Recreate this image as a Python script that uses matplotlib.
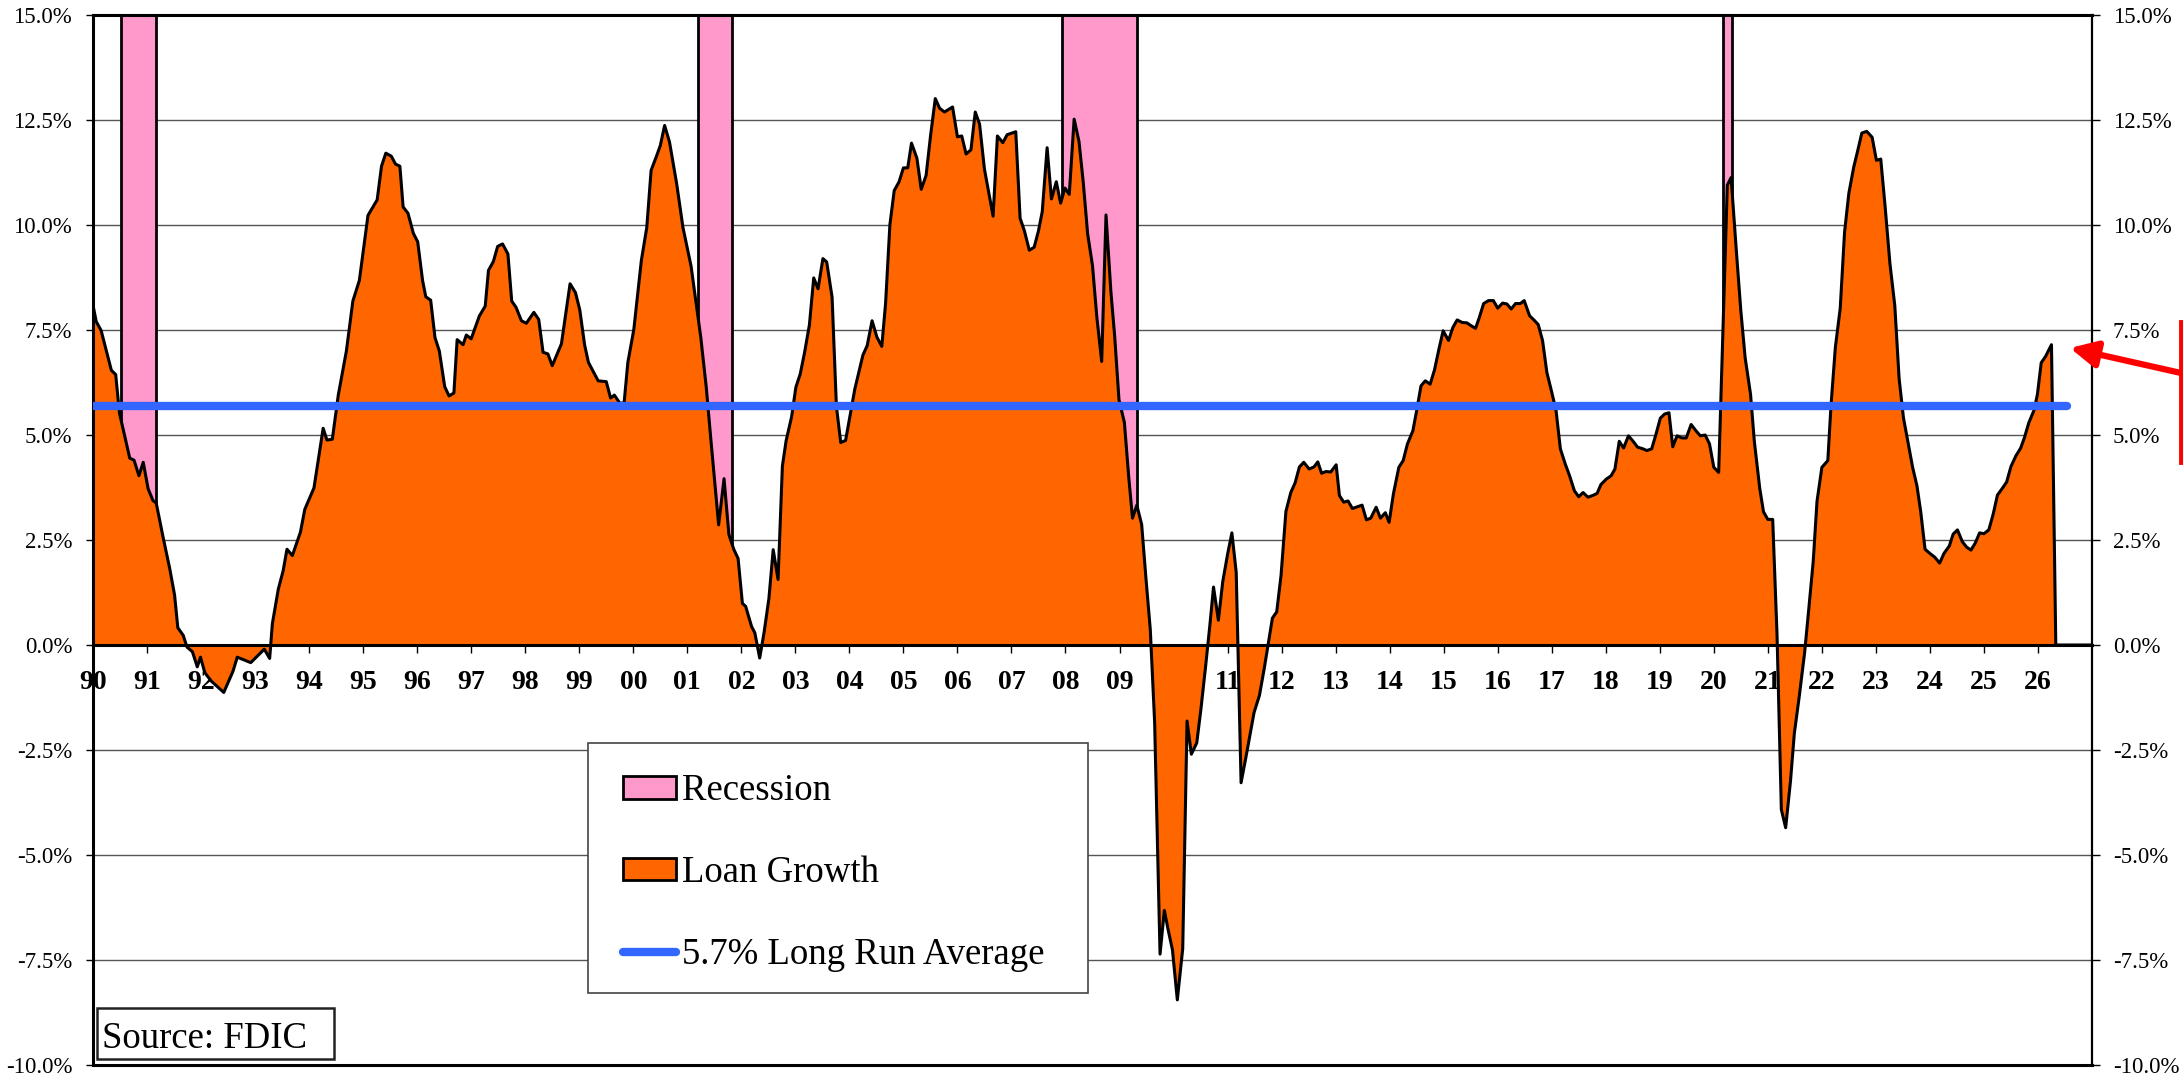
import numpy as np
import matplotlib
matplotlib.use("Agg")
import matplotlib.pyplot as plt
from matplotlib.patches import Patch, Rectangle, FancyArrowPatch
from matplotlib.lines import Line2D
from matplotlib.ticker import FuncFormatter

plt.rcParams['font.family'] = ['Liberation Serif', 'DejaVu Serif']

# loan growth (%), x in decimal years
years = [
    1990.00, 1990.06, 1990.15, 1990.34, 1990.42, 1990.49, 1990.62, 1990.68, 1990.76, 1990.85,
    1990.93, 1991.02, 1991.11, 1991.17, 1991.30, 1991.42, 1991.51, 1991.57, 1991.67, 1991.74,
    1991.84, 1991.93, 1991.99, 1992.07, 1992.19, 1992.42, 1992.59, 1992.67, 1992.92, 1993.17,
    1993.27, 1993.32, 1993.43, 1993.52, 1993.59, 1993.69, 1993.84, 1993.92, 1994.09, 1994.26,
    1994.33, 1994.43, 1994.54, 1994.69, 1994.81, 1994.93, 1995.09, 1995.26, 1995.34, 1995.42,
    1995.52, 1995.60, 1995.68, 1995.74, 1995.83, 1995.93,
    1996.01, 1996.10, 1996.16, 1996.25, 1996.33, 1996.41, 1996.51, 1996.59, 1996.68, 1996.74,
    1996.85, 1996.91, 1997.00, 1997.15, 1997.26, 1997.32, 1997.41, 1997.49, 1997.58, 1997.68,
    1997.75, 1997.83, 1997.93, 1998.02, 1998.16, 1998.25, 1998.33, 1998.42, 1998.50, 1998.67,
    1998.83, 1998.93, 1999.01, 1999.10, 1999.17, 1999.35, 1999.50, 1999.58, 1999.65, 1999.75,
    1999.83, 1999.90, 2000.01, 2000.15, 2000.25, 2000.33, 2000.43, 2000.50, 2000.58, 2000.67,
    2000.80, 2000.92, 2001.07, 2001.25, 2001.35, 2001.43, 2001.58, 2001.68, 2001.77, 2001.86,
    2001.94, 2002.02,
    2002.08, 2002.19, 2002.25, 2002.34, 2002.42, 2002.51, 2002.59, 2002.68, 2002.76, 2002.83,
    2002.93, 2003.01, 2003.09, 2003.17, 2003.26, 2003.34, 2003.42, 2003.51, 2003.58, 2003.68,
    2003.76, 2003.84, 2003.93, 2004.10, 2004.25, 2004.33, 2004.42, 2004.51, 2004.60, 2004.67,
    2004.75, 2004.83, 2004.92, 2005.00, 2005.08, 2005.15, 2005.25, 2005.33, 2005.42, 2005.50,
    2005.59, 2005.67, 2005.76, 2005.91, 2006.00, 2006.08, 2006.16, 2006.25, 2006.33, 2006.41,
    2006.50, 2006.66, 2006.74, 2006.84, 2006.92, 2007.08, 2007.16, 2007.24, 2007.33, 2007.42,
    2007.50, 2007.57, 2007.66, 2007.74, 2007.83, 2007.91, 2007.99,
    2008.07, 2008.16, 2008.25, 2008.33, 2008.41, 2008.50, 2008.58, 2008.67, 2008.75, 2008.84,
    2008.91, 2008.99, 2009.09, 2009.17, 2009.24, 2009.32, 2009.41, 2009.49, 2009.57, 2009.65,
    2009.75, 2009.83, 2009.90, 2009.98, 2010.07, 2010.17, 2010.25, 2010.33, 2010.43, 2010.51,
    2010.59, 2010.67, 2010.74, 2010.83, 2010.91, 2011.00, 2011.08, 2011.16, 2011.25, 2011.34,
    2011.49, 2011.59, 2011.68, 2011.83, 2011.91, 2011.99, 2012.08, 2012.17, 2012.25, 2012.33,
    2012.41, 2012.51, 2012.60, 2012.67, 2012.74, 2012.82, 2012.91, 2013.01, 2013.07, 2013.15,
    2013.23, 2013.31, 2013.49, 2013.57, 2013.65, 2013.75, 2013.83, 2013.92, 2013.99,
    2014.07, 2014.17, 2014.25, 2014.33, 2014.43, 2014.50, 2014.58, 2014.66, 2014.75, 2014.83,
    2014.92, 2014.99, 2015.09, 2015.17, 2015.25, 2015.34, 2015.43, 2015.51, 2015.59, 2015.66,
    2015.74, 2015.83, 2015.92, 2016.00, 2016.09, 2016.17, 2016.25, 2016.33, 2016.42, 2016.49,
    2016.59, 2016.67, 2016.75, 2016.83, 2016.91, 2017.00, 2017.08, 2017.16, 2017.25, 2017.33,
    2017.42, 2017.50, 2017.58, 2017.67, 2017.76, 2017.84, 2017.91, 2018.01, 2018.10, 2018.17,
    2018.25, 2018.33, 2018.42, 2018.50, 2018.59, 2018.69, 2018.76, 2018.85, 2018.93, 2019.01,
    2019.09, 2019.17, 2019.24, 2019.32, 2019.41, 2019.49, 2019.58, 2019.67, 2019.75, 2019.84,
    2019.92, 2020.00, 2020.09,
    2020.25, 2020.32, 2020.42, 2020.50, 2020.58, 2020.68, 2020.75, 2020.85, 2020.92, 2021.00,
    2021.09, 2021.17, 2021.25, 2021.33, 2021.42, 2021.49, 2021.58, 2021.68, 2021.75, 2021.84,
    2021.91, 2022.00, 2022.11, 2022.17, 2022.25, 2022.34, 2022.42, 2022.50, 2022.59, 2022.66,
    2022.74, 2022.83, 2022.93, 2023.01, 2023.09, 2023.17, 2023.26, 2023.35, 2023.43, 2023.51,
    2023.60, 2023.68, 2023.76, 2023.83, 2023.91, 2024.00, 2024.09, 2024.18, 2024.26, 2024.36,
    2024.43, 2024.51, 2024.60, 2024.68, 2024.76, 2024.84, 2024.92, 2025.00, 2025.09, 2025.17,
    2025.25, 2025.34, 2025.42, 2025.50, 2025.59, 2025.68, 2025.75, 2025.83, 2025.93, 2025.99,
    2026.06, 2026.14, 2026.25, 2026.33, 2027.00,
]
growth = [
    8.09, 7.70, 7.49, 6.54, 6.44, 5.52, 4.79, 4.45, 4.40, 4.03,
    4.35, 3.72, 3.44, 3.38, 2.55, 1.82, 1.19, 0.41, 0.23, -0.05,
    -0.16, -0.52, -0.29, -0.66, -0.86, -1.13, -0.63, -0.29, -0.42, -0.10,
    -0.32, 0.51, 1.33, 1.77, 2.28, 2.13, 2.69, 3.23, 3.74, 5.16,
    4.88, 4.90, 5.95, 7.00, 8.19, 8.68, 10.23, 10.60, 11.40, 11.71,
    11.64, 11.45, 11.40, 10.43, 10.28, 9.80,
    9.60, 8.68, 8.29, 8.21, 7.32, 7.00, 6.15, 5.93, 6.00, 7.27,
    7.15, 7.38, 7.29, 7.83, 8.07, 8.92, 9.13, 9.49, 9.55, 9.31,
    8.19, 8.04, 7.72, 7.66, 7.92, 7.75, 6.97, 6.93, 6.65, 7.17,
    8.60, 8.39, 7.98, 7.14, 6.73, 6.29, 6.27, 5.88, 5.95, 5.76,
    5.76, 6.73, 7.51, 9.16, 9.94, 11.30, 11.64, 11.89, 12.37, 11.98,
    11.01, 9.94, 9.02, 7.32, 6.15, 4.98, 2.86, 3.96, 2.63, 2.28,
    2.06, 0.99,
    0.92, 0.44, 0.29, -0.31, 0.29, 1.10, 2.27, 1.56, 4.26, 4.87,
    5.43, 6.14, 6.45, 6.96, 7.62, 8.74, 8.48, 9.20, 9.12, 8.28,
    5.68, 4.82, 4.87, 6.09, 6.90, 7.13, 7.72, 7.33, 7.11, 8.13,
    10.01, 10.82, 11.03, 11.36, 11.36, 11.95, 11.59, 10.85, 11.18, 12.10,
    13.01, 12.78, 12.69, 12.81, 12.10, 12.12, 11.69, 11.79, 12.69, 12.40,
    11.33, 10.21, 12.12, 11.96, 12.15, 12.22, 10.16, 9.86, 9.40, 9.47,
    9.86, 10.32, 11.84, 10.62, 11.03, 10.52, 10.88,
    10.73, 12.52, 11.99, 11.00, 9.79, 9.03, 7.81, 6.75, 10.24, 8.42,
    7.36, 5.84, 5.30, 4.01, 3.02, 3.33, 2.87, 1.58, 0.36, -1.84,
    -7.36, -6.32, -6.78, -7.26, -8.45, -7.23, -1.81, -2.60, -2.33, -1.49,
    -0.55, 0.44, 1.38, 0.59, 1.50, 2.16, 2.67, 1.73, -3.28, -2.67,
    -1.61, -1.20, -0.55, 0.64, 0.79, 1.66, 3.18, 3.63, 3.86, 4.24,
    4.35, 4.19, 4.24, 4.36, 4.09, 4.13, 4.12, 4.29, 3.56, 3.40,
    3.43, 3.25, 3.33, 2.98, 3.02, 3.28, 3.02, 3.15, 2.92,
    3.60, 4.23, 4.39, 4.79, 5.10, 5.58, 6.17, 6.29, 6.21, 6.55,
    7.09, 7.48, 7.25, 7.56, 7.74, 7.68, 7.67, 7.60, 7.54, 7.80,
    8.13, 8.20, 8.20, 8.02, 8.14, 8.12, 8.00, 8.13, 8.13, 8.20,
    7.84, 7.74, 7.63, 7.25, 6.49, 6.02, 5.58, 4.67, 4.31, 4.03,
    3.67, 3.53, 3.63, 3.52, 3.56, 3.61, 3.82, 3.95, 4.03, 4.19,
    4.85, 4.69, 4.98, 4.86, 4.71, 4.67, 4.63, 4.67, 5.02, 5.40,
    5.50, 5.53, 4.72, 4.98, 4.93, 4.93, 5.25, 5.10, 4.98, 5.00,
    4.79, 4.23, 4.11,
    10.95, 11.13, 9.33, 7.96, 6.84, 5.97, 4.85, 3.73, 3.17, 2.99,
    2.99, 0.25, -3.92, -4.35, -3.23, -2.11, -1.24, -0.19, 0.75, 1.99,
    3.42, 4.23, 4.39, 5.72, 7.09, 8.02, 9.83, 10.76, 11.38, 11.75,
    12.19, 12.23, 12.09, 11.54, 11.57, 10.45, 9.08, 8.08, 6.34, 5.41,
    4.79, 4.23, 3.79, 3.17, 2.28, 2.18, 2.09, 1.95, 2.18, 2.36,
    2.64, 2.74, 2.46, 2.33, 2.26, 2.43, 2.67, 2.65, 2.74, 3.11,
    3.57, 3.73, 3.88, 4.25, 4.50, 4.69, 4.94, 5.29, 5.60, 5.97,
    6.72, 6.87, 7.15, 0.0, 0.0,
]

rec_start = [1990.51, 2001.19, 2007.93, 2020.17]
rec_end = [1991.17, 2001.83, 2009.33, 2020.33]
avg_rate = 5.7
avg_span = [1990.0, 2026.53]

year_ticks = list(range(1990, 2027))
year_labels = [f"{y % 100:02d}" for y in year_ticks]
pct_ticks = [-10, -7.5, -5, -2.5, 0, 2.5, 5, 7.5, 10, 12.5, 15]

pink = '#FF99CC'
orange = '#FF6600'
blue = '#3366FF'

W, H = 2183, 1077
fig = plt.figure(figsize=(W / 100, H / 100), dpi=100)
ax = fig.add_axes([93 / W, 12 / H, 1999 / W, 1050 / H])
ax.set_xlim(1990, 2027)
ax.set_ylim(-10, 15)
ax.set_axisbelow(True)

# recession bars
ax.bar(rec_start, 15, width=np.subtract(rec_end, rec_start), bottom=0, align='edge',
       color=pink, edgecolor='black', linewidth=2, zorder=0.8)

# loan growth area
ax.fill_between(years, growth, 0, color=orange, linewidth=0, zorder=1)
ax.plot(years, growth, color='black', lw=2.2, zorder=2)

# long run average
ax.plot(avg_span, [avg_rate, avg_rate], color=blue, lw=6, solid_capstyle='round', zorder=3)

# axes styling
ax.yaxis.grid(True, color='#555555', lw=1)
ax.set_yticks(pct_ticks)
pct_fmt = FuncFormatter(lambda v, p: f"{v:.1f}%")
ax.yaxis.set_major_formatter(pct_fmt)
ax.tick_params(axis='y', direction='out', length=5, width=1, pad=10, labelsize=16.5)

ax.spines['bottom'].set_position(('data', 0))
ax.spines['bottom'].set_linewidth(2.2)
ax.spines['bottom'].set_zorder(2.5)
ax.spines['left'].set_linewidth(2.2)
ax.spines['top'].set_linewidth(2.2)
ax.spines['right'].set_visible(False)
ax.set_xticks(year_ticks, year_labels)
ax.tick_params(axis='x', direction='out', length=6, width=1, pad=12, labelsize=20)
for t in ax.get_xticklabels():
    t.set_fontweight('bold')

ax2 = ax.twinx()
ax2.set_ylim(-10, 15)
ax2.set_yticks(pct_ticks)
ax2.yaxis.set_major_formatter(pct_fmt)
ax2.tick_params(axis='y', direction='out', length=6, width=1, pad=9, labelsize=16.5)
ax2.spines['top'].set_visible(False)
ax2.spines['left'].set_visible(False)
ax2.spines['right'].set_linewidth(1.6)
ax2.spines['bottom'].set_linewidth(2.2)

# legend box
ax.add_patch(Rectangle((0.2476, 0.0686), 0.2502, 0.2381, transform=ax.transAxes,
                       facecolor='white', edgecolor='#444444', lw=1.2, zorder=4))
handles = [Patch(facecolor=pink, edgecolor='black', lw=2),
           Patch(facecolor=orange, edgecolor='black', lw=2),
           Line2D([], [], color=blue, lw=6, solid_capstyle='round')]
labels = ['Recession', 'Loan Growth', '5.7% Long Run Average']
leg = ax.legend(handles, labels, loc='upper left', bbox_to_anchor=(0.2651, 0.2772),
                frameon=False, fontsize=26.5, handlelength=1.45, handleheight=0.55,
                handletextpad=0.15, labelspacing=1.29, borderpad=0, borderaxespad=0)
leg.set_zorder(5)

# source box
ax.add_patch(Rectangle((0.002, 0.0057), 0.1186, 0.0486, transform=ax.transAxes,
                       facecolor='white', edgecolor='#222222', lw=1.8, zorder=4))
ax.text(0.0045, 0.0162, 'Source: FDIC', transform=ax.transAxes, fontsize=26.5,
        va='baseline', ha='left', zorder=5)

# red arrow pointing at latest reading
arrow = FancyArrowPatch((2181 / W, 704 / H), (2070 / W, 729 / H), transform=fig.transFigure,
                        arrowstyle='-|>,head_length=16,head_width=8', mutation_scale=1,
                        color='red', lw=4.5, shrinkA=0, shrinkB=0)
fig.add_artist(arrow)
fig.add_artist(Line2D([2181 / W, 2181 / W], [615 / H, 755 / H], transform=fig.transFigure,
                      color='red', lw=3.5))

fig.savefig('out.png', dpi=100, facecolor='white')
